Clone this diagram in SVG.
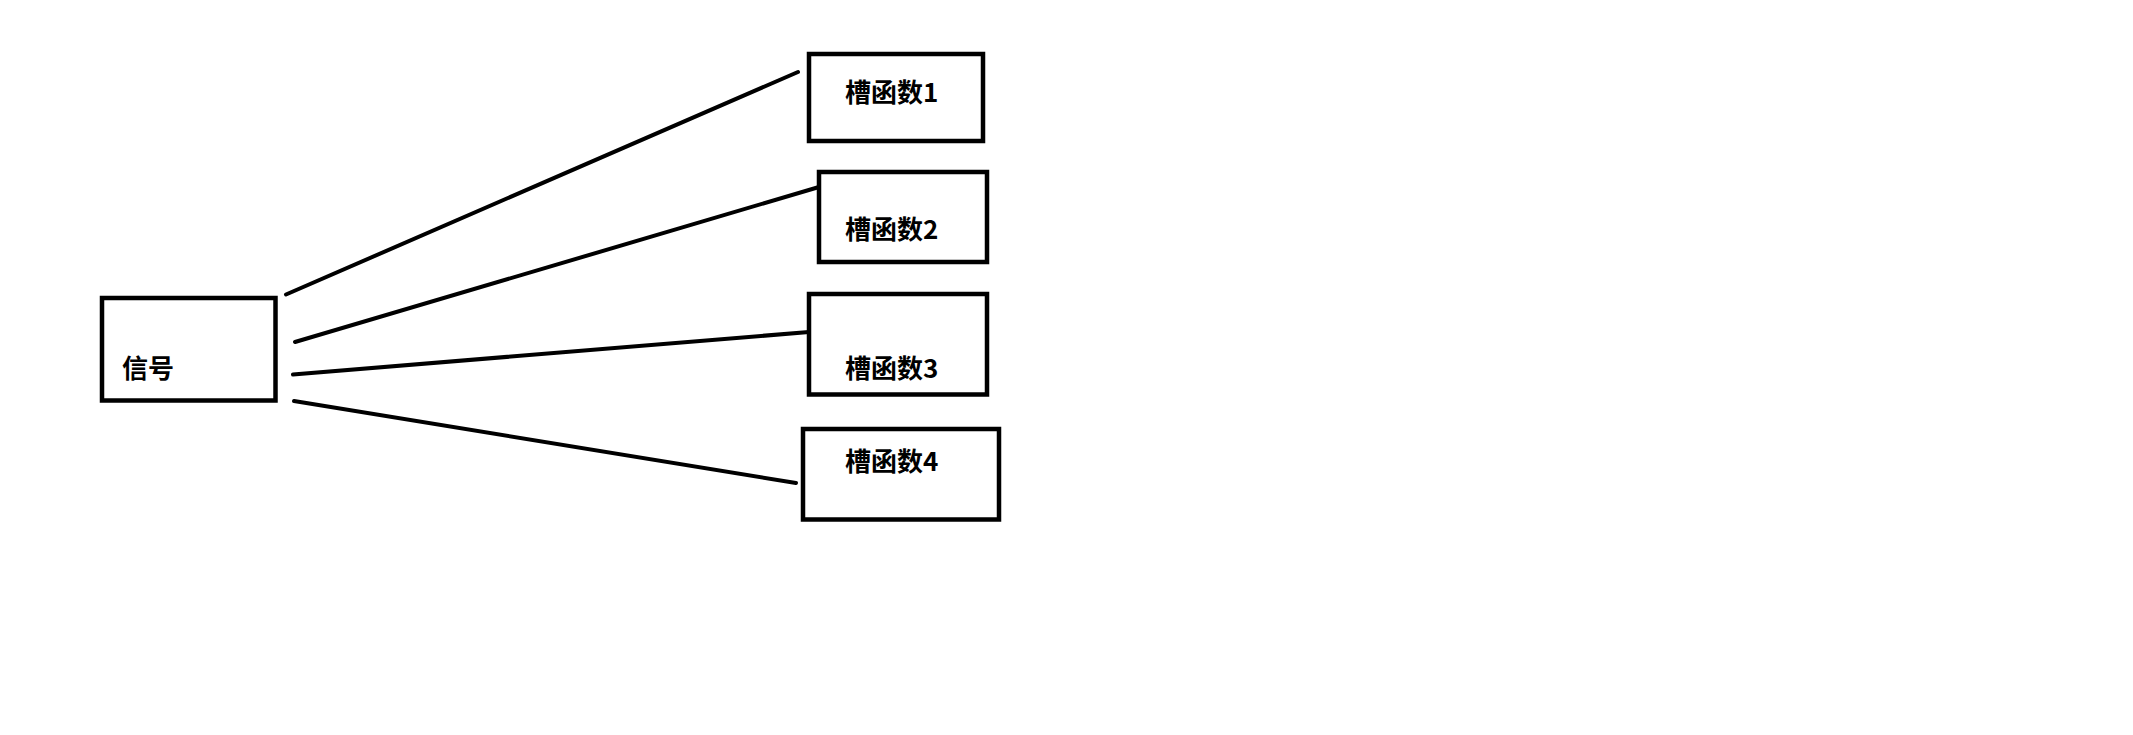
<svg xmlns="http://www.w3.org/2000/svg" width="2133" height="735" viewBox="0 0 2133 735">
<style>
.box{fill:#fff;stroke:#000;stroke-width:4.5}
.lbl{font-family:"Noto Sans CJK SC","Noto Sans",sans-serif;font-weight:bold;font-size:26px;fill:#000}
.conn line{stroke:#000;stroke-width:4;stroke-linecap:round}
</style>
<rect width="2133" height="735" fill="#fff"/>
<g id="signal">
<rect class="box" x="102" y="298" width="173.5" height="102.5"/>
<text class="lbl" x="122" y="378">信号</text>
</g>
<g id="slot1">
<rect class="box" x="809" y="54" width="174" height="87"/>
<text class="lbl" x="845" y="102">槽函数1</text>
</g>
<g id="slot2">
<rect class="box" x="819" y="172" width="168" height="90"/>
<text class="lbl" x="845" y="239">槽函数2</text>
</g>
<g id="slot3">
<rect class="box" x="809" y="294" width="178" height="100.5"/>
<text class="lbl" x="845" y="378">槽函数3</text>
</g>
<g id="slot4">
<rect class="box" x="803" y="429" width="196" height="90.5"/>
<text class="lbl" x="845" y="471">槽函数4</text>
</g>
<g class="conn" id="connectors">
<line x1="286" y1="294.5" x2="798" y2="72"/>
<line x1="295" y1="342" x2="819" y2="187"/>
<line x1="293" y1="374.5" x2="809" y2="332"/>
<line x1="294" y1="401" x2="796" y2="483"/>
</g>
</svg>
